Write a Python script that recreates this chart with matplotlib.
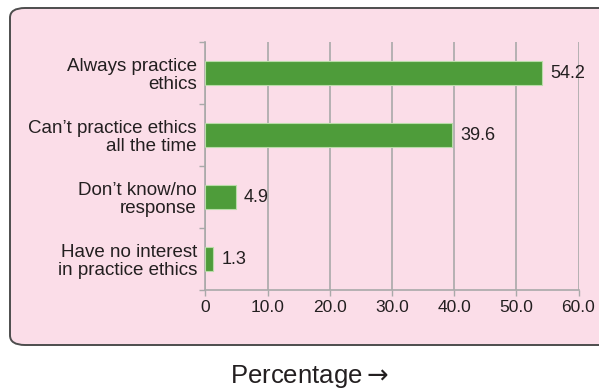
import matplotlib.pyplot as plt
from matplotlib.patches import FancyBboxPatch

# data
categories = ['Always practice\nethics', 'Can\u2019t practice ethics\nall the time',
              'Don\u2019t know/no\nresponse', 'Have no interest\nin practice ethics']
values = [54.2, 39.6, 4.9, 1.3]
xticks = [0, 10, 20, 30, 40, 50, 60]
xtick_labels = ['0', '10.0', '20.0', '30.0', '40.0', '50.0', '60.0']

plt.rcParams['font.family'] = ['Liberation Sans', 'DejaVu Sans']
textColor = '#231f20'
pink = '#fbdde8'
green = '#4e9c3a'
gridColor = '#a9a9a9'

fig = plt.figure(figsize=(5.99, 3.89), dpi=100)
fig.patch.set_facecolor('white')

# pink rounded box behind the chart
box = FancyBboxPatch((10 / 599, (389 - 345) / 389), 620 / 599, (345 - 8) / 389,
                     boxstyle='round,pad=0,rounding_size=0.025',
                     transform=fig.transFigure, facecolor=pink,
                     edgecolor='#4d4d4d', linewidth=1.4, zorder=-1)
fig.patches.append(box)

ax = fig.add_axes([205.3 / 599, (389 - 290) / 389, 373.2 / 599, 248 / 389])
ax.set_facecolor('none')
ax.set_zorder(2)

y = list(range(len(categories)))
ax.barh(y, values, height=0.4, color=green, edgecolor='#b9dca8',
        linewidth=0.8, zorder=3)
for yi, v in zip(y, values):
    ax.annotate(f'{v:.1f}', (v, yi), xytext=(6, 0), textcoords='offset points',
                va='center', ha='left', fontsize=13, color=textColor, zorder=4)

ax.set_xlim(0, 60)
ax.set_ylim(len(categories) - 0.5, -0.5)
ax.set_xticks(xticks)
ax.set_xticklabels(xtick_labels, fontsize=12.5, color=textColor)
ax.set_yticks(y)
ax.set_yticklabels(categories, fontsize=13.5, color=textColor, linespacing=1.05)
ax.set_yticks([i - 0.5 for i in range(len(categories) + 1)], minor=True)
ax.tick_params(axis='y', which='major', length=0, pad=6)
ax.tick_params(axis='y', which='minor', length=4, color=gridColor, width=1)
ax.tick_params(axis='x', length=4, color=gridColor, width=1, pad=3)

ax.xaxis.grid(True, color=gridColor, linewidth=1.2, zorder=0)
ax.set_axisbelow(True)
for side in ['top', 'right']:
    ax.spines[side].set_visible(False)
ax.spines['left'].set_color(gridColor)
ax.spines['bottom'].set_color(gridColor)
ax.spines['left'].set_linewidth(1.2)
ax.spines['bottom'].set_linewidth(1.2)

fig.text(310 / 599, (389 - 376) / 389, 'Percentage$\\rightarrow$', fontsize=18.5,
         color=textColor, ha='center', va='center')

fig.savefig('out.png', dpi=100)
